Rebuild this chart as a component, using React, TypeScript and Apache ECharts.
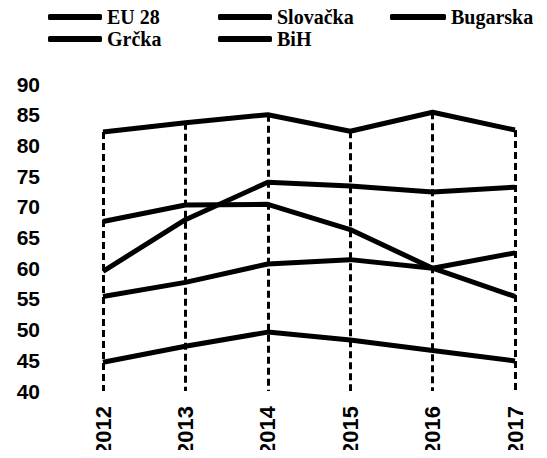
import React, { useEffect, useRef } from "react";
import * as echarts from "echarts";

const years = ["2012", "2013", "2014", "2015", "2016", "2017"];
const eu28 = [82.2, 83.7, 85.0, 82.3, 85.4, 82.5];
const slovacka = [67.6, 70.3, 70.4, 66.3, 60.0, 55.4];
const bugarska = [59.5, 67.9, 74.0, 73.4, 72.4, 73.2];
const grcka = [55.4, 57.7, 60.7, 61.4, 60.0, 62.5];
const bih = [44.7, 47.3, 49.6, 48.3, 46.6, 44.9];
const yMin = 40;
const yMax = 90;
const yStep = 5;

const legendFont = {
  fontFamily: "Liberation Serif",
  fontWeight: "bold" as const,
  fontSize: 20,
  lineHeight: 18,
  color: "#000",
};

export default function App() {
  const ref = useRef<HTMLDivElement>(null);
  useEffect(() => {
    if (!ref.current) return;
    const chart = echarts.init(ref.current, null, { renderer: "svg" });
    const lineStyle = { color: "#000", width: 5 };
    const mkSeries = (name: string, data: number[], extra: any = {}) => ({
      name,
      type: "line",
      data,
      symbol: "none",
      color: "#000",
      lineStyle,
      z: 3,
      ...extra,
    });
    const legendBase = {
      icon: "roundRect",
      itemWidth: 54,
      itemHeight: 6,
      padding: 0,
      textStyle: legendFont,
    };
    const dropLines = years.map((y, i) => [
      { coord: [y, eu28[i]] },
      { coord: [y, yMin] },
    ]);
    chart.setOption({
      animation: false,
      backgroundColor: "#fff",
      grid: { left: 103, right: 32, top: 84, bottom: 63 },
      legend: [
        { ...legendBase, data: ["EU 28"], left: 48, top: 7 },
        { ...legendBase, data: ["Slovačka"], left: 218, top: 7 },
        { ...legendBase, data: ["Bugarska"], left: 390, top: 7, itemWidth: 56 },
        { ...legendBase, data: ["Grčka"], left: 48, top: 29 },
        { ...legendBase, data: ["BiH"], left: 218, top: 29 },
      ],
      xAxis: {
        type: "category",
        data: years,
        boundaryGap: false,
        axisLine: { show: false },
        axisTick: { show: false },
        splitLine: { show: false },
        axisLabel: {
          rotate: 90,
          margin: 15,
          fontFamily: "Liberation Sans",
          fontWeight: "bold",
          fontSize: 22,
          color: "#000",
        },
      },
      yAxis: {
        type: "value",
        min: yMin,
        max: yMax,
        interval: yStep,
        axisLine: { show: false },
        axisTick: { show: false },
        splitLine: { show: false },
        axisLabel: {
          margin: 63,
          fontFamily: "Liberation Sans",
          fontWeight: "bold",
          fontSize: 21,
          color: "#000",
        },
      },
      series: [
        mkSeries("EU 28", eu28, {
          markLine: {
            silent: true,
            symbol: "none",
            label: { show: false },
            lineStyle: { color: "#000", width: 3, type: [7, 4] },
            data: dropLines,
            z: 1,
          },
        }),
        mkSeries("Slovačka", slovacka),
        mkSeries("Bugarska", bugarska),
        mkSeries("Grčka", grcka),
        mkSeries("BiH", bih),
      ],
    });
    return () => chart.dispose();
  }, []);
  return <div ref={ref} style={{ width: 547, height: 458, margin: -8 }} />;
}
